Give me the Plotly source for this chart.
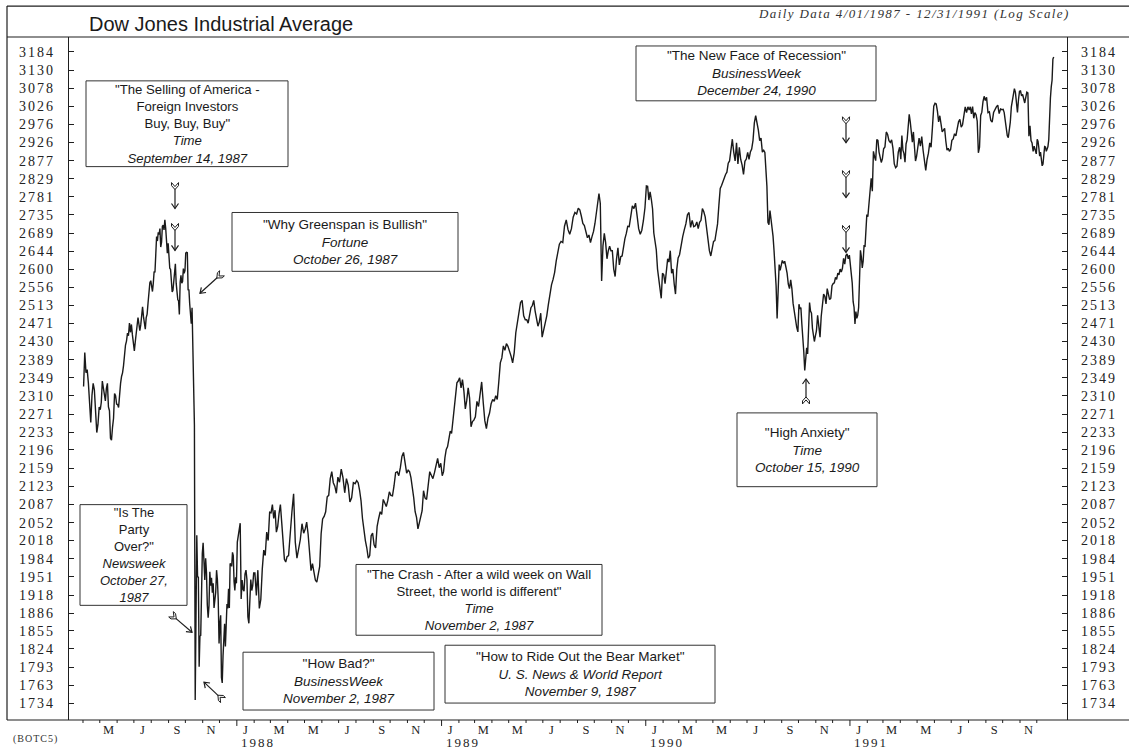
import math
import numpy as np
import pandas as pd
import plotly.graph_objects as go

# ---------------- DATA (DJIA closes, grouped by month) ----------------
dj_1987 = [
    [2330, 2405, 2360, 2367, 2338, 2287, 2253, 2311, 2337, 2323, 2275, 2232, 2249, 2286],
    [2280, 2296, 2342, 2325, 2313, 2299, 2326, 2337, 2286, 2278, 2220, 2216, 2243, 2262, 2315, 2310, 2292],
    [2291, 2285, 2326, 2337, 2352, 2360, 2376, 2407, 2422, 2431, 2449, 2443, 2472, 2451, 2469, 2445, 2418],
    [2409, 2429, 2452, 2480, 2485, 2470, 2455, 2468, 2496, 2510, 2487, 2470, 2458, 2485, 2493, 2519, 2549, 2567, 2572],
    [2557, 2546, 2566, 2594, 2592, 2635, 2680, 2669, 2691, 2685, 2700, 2654, 2666, 2706, 2709, 2697, 2722, 2701, 2675, 2639, 2663],
    [2610, 2602, 2599, 2561, 2545, 2549, 2576, 2608, 2613, 2566, 2530, 2527, 2524, 2492, 2568, 2585, 2566, 2570, 2601, 2590, 2596],
    [2639, 2641, 2640, 2549, 2551, 2517, 2482, 2471, 2508, 2413, 2355, 2247, 1739, 1841, 2028, 1950, 1951, 1794, 1846, 1847, 1938, 1994],
    [2014, 1963, 1945, 1985, 1959, 1900, 1878, 1899, 1960, 1935, 1949, 1922, 1939, 1895, 1913, 1923, 1963, 1946, 1910, 1833],
    [1868, 1882, 1776, 1767, 1812, 1848, 1867, 1828, 1867, 1902, 1894, 1929, 1895, 1975, 1974, 1970, 1996, 1990, 1942, 1926, 1950, 1939],
]
dj_1988 = [
    [2015, 2031, 2037, 2051, 1911, 1945, 1928, 1925, 1956, 1963, 1946, 1879, 1868, 1903, 1946, 1926, 1935, 1958],
    [1958, 1917, 1963, 1894, 1910, 1965, 2000, 1990, 2034, 2018, 2072],
    [2071, 2087, 2060, 2076, 2034, 2045, 2070, 2087, 2052, 2020, 1983, 1978, 1988],
    [1990, 2040, 2073, 2108, 2015, 1985, 2000, 2020, 2050, 2032],
    [2040, 2053, 2030, 2000, 1962, 1975, 1956, 1945, 1941, 1956, 1970, 2031],
    [2059, 2064, 2073, 2102, 2105, 2138, 2152, 2130, 2123, 2109, 2141],
    [2131, 2157, 2140, 2110, 2138, 2125, 2092, 2100, 2130, 2128],
    [2134, 2130, 2115, 2094, 2060, 2033, 2018, 2004, 1985, 1990, 2027, 2032],
    [2010, 2004, 2045, 2060, 2073, 2068, 2097, 2090, 2083, 2095, 2112],
    [2105, 2104, 2124, 2150, 2152, 2144, 2160, 2183, 2191, 2171, 2149],
    [2155, 2152, 2140, 2124, 2100, 2073, 2062, 2040, 2052, 2065, 2075, 2114],
    [2100, 2097, 2130, 2152, 2145, 2138, 2150, 2163, 2179, 2160, 2169],
]
dj_1989 = [
    [2144, 2152, 2180, 2197, 2203, 2224, 2235, 2230, 2256, 2280, 2310, 2338, 2342],
    [2349, 2327, 2345, 2320, 2282, 2300, 2327, 2305, 2244, 2255, 2258],
    [2265, 2298, 2287, 2312, 2340, 2295, 2257, 2240, 2262, 2273, 2293],
    [2302, 2298, 2310, 2302, 2340, 2382, 2393, 2420, 2410, 2425, 2419],
    [2410, 2397, 2382, 2405, 2450, 2472, 2489, 2520, 2525, 2489, 2480],
    [2480, 2472, 2495, 2508, 2513, 2525, 2500, 2480, 2465, 2475, 2495, 2440],
    [2454, 2470, 2489, 2515, 2542, 2562, 2575, 2592, 2620, 2642, 2661],
    [2668, 2665, 2706, 2722, 2698, 2686, 2700, 2729, 2741, 2737],
    [2752, 2748, 2732, 2713, 2708, 2690, 2677, 2684, 2665, 2680, 2693],
    [2713, 2740, 2764, 2790, 2764, 2571, 2657, 2688, 2665, 2625, 2645, 2656, 2645],
    [2645, 2600, 2582, 2625, 2652, 2610, 2630, 2632, 2657, 2675, 2688, 2706],
    [2705, 2730, 2758, 2751, 2765, 2733, 2700, 2686, 2696, 2720, 2753],
]
dj_1990 = [
    [2810, 2809, 2773, 2794, 2775, 2750, 2689, 2660, 2647, 2600, 2575, 2560, 2530, 2590],
    [2586, 2565, 2602, 2625, 2617, 2645, 2590, 2600, 2564, 2540, 2600, 2627],
    [2635, 2660, 2680, 2697, 2712, 2735, 2741, 2703, 2721, 2705, 2707],
    [2717, 2700, 2716, 2721, 2751, 2743, 2730, 2697, 2666, 2645, 2632, 2656],
    [2668, 2670, 2690, 2712, 2760, 2803, 2811, 2822, 2833, 2840, 2846, 2870, 2876],
    [2900, 2935, 2900, 2876, 2925, 2868, 2913, 2880, 2865, 2840, 2875, 2881],
    [2899, 2880, 2900, 2908, 2932, 2980, 3000, 2983, 2960, 2931, 2938, 2900, 2905],
    [2899, 2864, 2809, 2716, 2710, 2746, 2724, 2716, 2681, 2645, 2603, 2560, 2483, 2532, 2611, 2597, 2614],
    [2621, 2614, 2619, 2605, 2590, 2564, 2553, 2574, 2553, 2518, 2495, 2485, 2463, 2452],
    [2516, 2505, 2508, 2470, 2445, 2407, 2365, 2398, 2416, 2402, 2485, 2520, 2500, 2495, 2460, 2448, 2430, 2442],
    [2454, 2490, 2463, 2440, 2488, 2510, 2540, 2535, 2517, 2553, 2535, 2527, 2530, 2560],
    [2565, 2567, 2580, 2575, 2590, 2586, 2600, 2593, 2602, 2626, 2612, 2633, 2637, 2625, 2634],
]
dj_1991 = [
    [2610, 2573, 2566, 2522, 2509, 2470, 2499, 2483, 2490, 2508, 2623, 2646, 2630, 2603, 2620, 2659, 2654, 2690, 2736],
    [2730, 2772, 2806, 2830, 2796, 2902, 2887, 2877, 2934, 2932, 2900, 2889, 2872, 2882],
    [2909, 2914, 2955, 2948, 2931, 2926, 2933, 2910, 2868, 2858, 2862, 2900, 2913],
    [2881, 2945, 2905, 2896, 2873, 2922, 2933, 2987, 3004, 2983, 2945, 2927, 2955, 2912, 2876, 2888],
    [2921, 2938, 2916, 2942, 2905, 2875, 2851, 2880, 2897, 2925, 2913, 2967, 3027],
    [3035, 3033, 3013, 2983, 3000, 2975, 2955, 2960, 2965, 2930, 2905, 2910, 2902, 2907],
    [2932, 2936, 2950, 2944, 2968, 2983, 2990, 2968, 2975, 3003, 3025, 3009, 3025],
    [3016, 3025, 3005, 3026, 2993, 3009, 3003, 2985, 2898, 2913, 3001, 3010, 3040, 3055, 3043],
    [3052, 3009, 3011, 2987, 2982, 3009, 3019, 3025, 3030, 3006, 3019, 3017],
    [3018, 3009, 2987, 2961, 2945, 2939, 2962, 2983, 3025, 3041, 3062, 3077, 3066, 3043, 3009, 3045, 3069],
    [3070, 3056, 3060, 3045, 3036, 3052, 3067, 3065, 2943, 2972, 2931, 2925, 2902, 2916, 2905, 2895],
    [2935, 2929, 2911, 2889, 2900, 2880, 2863, 2868, 2895, 2915, 2914, 2902, 2908, 2915, 2934, 3022, 3050, 3082, 3101, 3163, 3169],
]

y_ticks = [1734, 1763, 1793, 1824, 1855, 1886, 1918, 1951, 1984, 2018, 2052, 2087, 2123,
           2159, 2196, 2233, 2271, 2310, 2349, 2389, 2430, 2471, 2513, 2556, 2600, 2644,
           2689, 2735, 2781, 2829, 2877, 2926, 2976, 3026, 3078, 3130, 3184]
month_letters = {1: "J", 3: "M", 5: "M", 7: "J", 9: "S", 11: "N"}
year_labels = ["1988", "1989", "1990", "1991"]

# ---------------- build series ----------------
months = pd.period_range("1987-04", "1991-12", freq="M")
monthly = dj_1987 + dj_1988 + dj_1989 + dj_1990 + dj_1991
dates, values = [], []
for per, vals in zip(months, monthly):
    start = per.start_time
    nd = per.days_in_month
    n = len(vals)
    for i, v in enumerate(vals):
        dates.append(start + pd.Timedelta(days=(i + 0.5) * nd / n))
        values.append(v)

# ---------------- geometry helpers (pixels -> paper) ----------------
FW, FH = 1129, 749
L, T, R, B = 69, 37, 1067, 722
W, H = R - L, B - T


def px(x):
    return (x - L) / W


def py(y):
    return 1 - (y - T) / H


def P(x, y):
    return f"{px(x):.5f},{py(y):.5f}"


INK = "#1e1e1e"
shapes = []
annotations = []


def hline(x0, x1, y, w=1.2):
    shapes.append(dict(type="line", xref="paper", yref="paper", x0=px(x0), x1=px(x1),
                       y0=py(y), y1=py(y), line=dict(color=INK, width=w)))


def vline(x, y0, y1, w=1.2):
    shapes.append(dict(type="line", xref="paper", yref="paper", x0=px(x), x1=px(x),
                       y0=py(y0), y1=py(y1), line=dict(color=INK, width=w)))


# frame
hline(7, 1129, 6)
hline(7, 1129, 37)
hline(7, 1129, 722)
vline(7, 6, 722)

# month ticks on the bottom line
tick_months = pd.period_range("1987-04", "1991-12", freq="M")
for per in tick_months:
    d = per.start_time
    ln = 6 if per.month == 1 else 3
    shapes.append(dict(type="line", xref="x", yref="paper", x0=d, x1=d,
                       y0=py(722), y1=py(722 + ln), line=dict(color=INK, width=1)))

# month labels
lab_vals, lab_text = [], []
for per in pd.period_range("1987-05", "1991-12", freq="M"):
    if per.month in month_letters:
        lab_vals.append(per.start_time + pd.Timedelta(days=per.days_in_month / 2))
        lab_text.append(month_letters[per.month])

for yl in year_labels:
    annotations.append(dict(xref="x", yref="paper", x=pd.Timestamp(f"{yl}-01-01"), y=py(744.5),
                            xanchor="left", yanchor="middle", xshift=2, showarrow=False,
                            text=f'<span style="letter-spacing:2px">{yl}</span>',
                            font=dict(family="Liberation Serif", size=13, color=INK)))

# boxes with text
SANS = "Liberation Sans"


def box(x0, y0, x1, y1, lines, size=13.5):
    shapes.append(dict(type="rect", xref="paper", yref="paper", x0=px(x0), x1=px(x1),
                       y0=py(y0), y1=py(y1), line=dict(color="#333", width=1),
                       fillcolor="white", layer="above"))
    cx = (x0 + x1) / 2
    cy = (y0 + y1) / 2
    annotations.append(dict(xref="paper", yref="paper", x=px(cx), y=py(cy), xanchor="center",
                            yanchor="middle", align="center", showarrow=False,
                            text="<br>".join(lines),
                            font=dict(family=SANS, size=size, color="#1a1a1a")))


box(86, 81, 288, 167, ['"The Selling of America -', 'Foreign Investors', 'Buy, Buy, Buy"',
                       '<i>Time</i>', '<i>September 14, 1987</i>'], 13.2)
box(232, 213, 458, 272, ['"Why Greenspan is Bullish"', '<i>Fortune</i>', '<i>October 26, 1987</i>'])
box(80, 506, 187, 607, ['"Is The', 'Party', 'Over?"', '<i>Newsweek</i>', '<i>October 27,</i>',
                        '<i>1987</i>'], 13)
box(243, 654, 434, 712, ['"How Bad?"', '<i>BusinessWeek</i>', '<i>November 2, 1987</i>'])
box(356, 566, 602, 637, ['"The Crash - After a wild week on Wall', 'Street, the world is different"',
                         '<i>Time</i>', '<i>November 2, 1987</i>'], 13.2)
box(445, 647, 715, 705, ['"How to Ride Out the Bear Market"', '<i>U. S. News & World Report</i>',
                         '<i>November 9, 1987</i>'])
box(636, 46, 876, 101, ['"The New Face of Recession"', '<i>BusinessWeek</i>', '<i>December 24, 1990</i>'])
box(737, 414, 877, 488, ['"High Anxiety"', '<i>Time</i>', '<i>October 15, 1990</i>'])


def arrow(tail, head):
    tx, ty = tail
    hx, hy = head
    dx, dy = hx - tx, hy - ty
    ln = math.hypot(dx, dy)
    ux, uy = dx / ln, dy / ln
    qx, qy = -uy, ux
    shapes.append(dict(type="path", xref="paper", yref="paper",
                       path=f"M{P(tx + ux * 4, ty + uy * 4)} L{P(hx, hy)}",
                       line=dict(color=INK, width=1.2)))
    hp = (f"M{P(hx - ux * 5 + qx * 3.5, hy - uy * 5 + qy * 3.5)} L{P(hx, hy)} "
          f"L{P(hx - ux * 5 - qx * 3.5, hy - uy * 5 - qy * 3.5)}")
    shapes.append(dict(type="path", xref="paper", yref="paper", path=hp,
                       line=dict(color=INK, width=1.2)))
    a1 = (tx + qx * 3.5, ty + qy * 3.5)
    a2 = (tx - qx * 3.5, ty - qy * 3.5)
    v = (tx + ux * 4, ty + uy * 4)
    s = 3
    fp = (f"M{P(*a1)} L{P(*v)} L{P(*a2)} L{P(a2[0] + ux * s, a2[1] + uy * s)} "
          f"L{P(v[0] + ux * s, v[1] + uy * s)} L{P(a1[0] + ux * s, a1[1] + uy * s)} Z")
    shapes.append(dict(type="path", xref="paper", yref="paper", path=fp,
                       line=dict(color=INK, width=1), fillcolor="white"))


arrow((175, 183), (175, 209))
arrow((175, 224), (175, 251))
arrow((222, 274), (200, 294))
arrow((171, 616), (192, 634))
arrow((223, 702), (204, 684))
arrow((846, 117), (846, 143))
arrow((846, 171), (846, 198))
arrow((846, 226), (846, 253))
arrow((806, 405), (806, 380))

# titles
annotations.append(dict(xref="paper", yref="paper", x=px(87), y=py(24), xanchor="left",
                        yanchor="middle", showarrow=False, text="Dow Jones Industrial Average",
                        font=dict(family=SANS, size=20, color="#1a1a1a")))
annotations.append(dict(xref="paper", yref="paper", x=px(1072), y=py(13), xanchor="right",
                        yanchor="middle", showarrow=False,
                        text='<span style="letter-spacing:1.4px"><i>Daily Data 4/01/1987 - 12/31/1991 (Log Scale)</i></span>',
                        font=dict(family="Liberation Serif", size=13, color="#333")))
annotations.append(dict(xref="paper", yref="paper", x=px(11), y=py(741), xanchor="left",
                        yanchor="middle", showarrow=False,
                        text='<span style="letter-spacing:1px">(BOTC5)</span>',
                        font=dict(family="Liberation Serif", size=10, color="#333")))

tick_text = [f'<span style="letter-spacing:2px">{v}</span>' for v in y_ticks]
yr = [math.log10(1706.8), math.log10(3228.8)]
yax = dict(type="log", range=yr, tickvals=y_ticks, ticktext=tick_text, ticks="inside",
           ticklen=5, tickcolor=INK, tickwidth=1, showline=True, linecolor=INK, linewidth=1.2,
           showgrid=False, zeroline=False,
           tickfont=dict(family="Liberation Serif", size=14, color="#222"))

fig = go.Figure()
fig.add_trace(go.Scatter(x=dates, y=values, mode="lines", line=dict(color="#1a1a1a", width=1.4),
                         hoverinfo="skip", showlegend=False))
fig.add_trace(go.Scatter(x=[dates[0]], y=[values[0]], yaxis="y2", mode="lines",
                         line=dict(width=0), hoverinfo="skip", showlegend=False))

fig.update_layout(
    width=FW, height=FH,
    margin=dict(l=L, r=FW - R, t=T, b=FH - B, pad=0),
    paper_bgcolor="white", plot_bgcolor="white",
    showlegend=False,
    xaxis=dict(type="date", range=["1987-03-07", "1992-01-24"], tickvals=lab_vals,
               ticktext=lab_text, ticks="", showline=False, showgrid=False, zeroline=False,
               tickfont=dict(family="Liberation Serif", size=12.5, color="#222"),
               ticklabelstandoff=0),
    yaxis=dict(**yax, side="left", ticklabelstandoff=10),
    yaxis2=dict(**yax, side="right", overlaying="y", anchor="x", ticklabelstandoff=10),
    shapes=shapes,
    annotations=annotations,
)

fig.write_html("out.html", config={"displayModeBar": False},
               post_script="document.body.style.margin='0px';document.body.style.overflow='hidden';")
